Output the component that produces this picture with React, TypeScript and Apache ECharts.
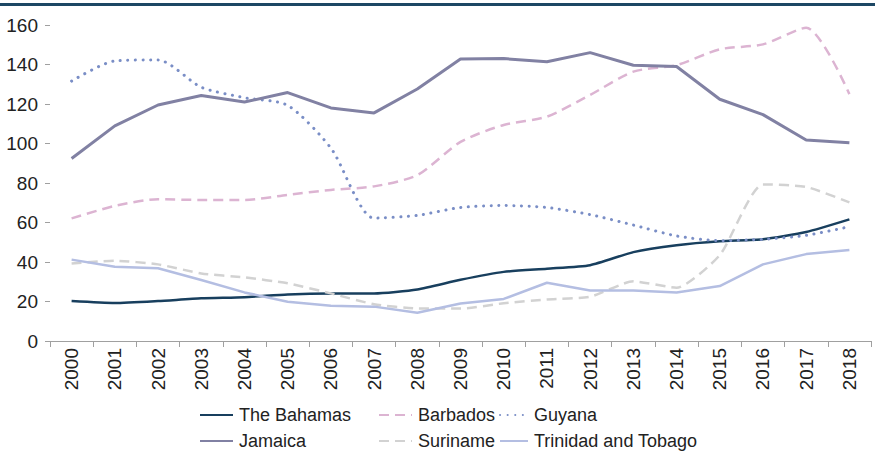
import React, { useEffect, useRef } from "react";
import * as echarts from "echarts";

const years = ["2000","2001","2002","2003","2004","2005","2006","2007","2008","2009","2010","2011","2012","2013","2014","2015","2016","2017","2018"];
const bahamas = [20.2, 19.2, 20.2, 21.6, 22.2, 23.6, 24.1, 24.1, 26.1, 31.0, 35.0, 36.6, 38.4, 45.0, 48.5, 50.5, 51.5, 55.2, 61.6];
const barbados = [62.1, 68.4, 71.8, 71.4, 71.4, 74.0, 76.5, 78.3, 84.0, 100.8, 109.4, 113.6, 124.6, 136.4, 139.7, 147.7, 150.2, 158.6, 125.0];
const guyana = [131.6, 141.8, 142.3, 128.5, 123.2, 119.3, 97.7, 62.2, 63.6, 67.6, 68.6, 67.6, 64.0, 58.7, 53.2, 50.8, 51.5, 53.5, 57.9];
const jamaica = [92.4, 108.9, 119.5, 124.3, 121.0, 125.8, 118.0, 115.5, 127.6, 142.8, 143.0, 141.4, 146.0, 139.6, 139.0, 122.4, 114.6, 101.8, 100.4];
const suriname = [39.3, 40.6, 38.8, 34.2, 32.2, 29.2, 24.1, 18.6, 16.5, 16.4, 19.1, 21.0, 22.4, 30.2, 27.0, 43.5, 79.3, 78.0, 70.2];
const trinidad = [41.2, 37.6, 36.8, 30.9, 24.6, 19.9, 17.9, 17.4, 14.3, 19.0, 21.3, 29.5, 25.6, 25.6, 24.6, 27.8, 38.8, 44.0, 46.1];
const yTicks = [0, 20, 40, 60, 80, 100, 120, 140, 160];

const FONT = '"Liberation Sans", Arial, sans-serif';

export default function App() {
  const ref = useRef<HTMLDivElement>(null);
  useEffect(() => {
    document.body.style.margin = "0";
    if (!ref.current) return;
    const chart = echarts.init(ref.current, null, { renderer: "svg" });
    const mk = (name: string, data: number[], color: string, width: number, type: any, smooth: number | boolean, cap: any = "butt") => ({
      name,
      type: "line",
      data,
      symbol: "none",
      smooth,
      lineStyle: { color, width, type, cap },
      itemStyle: { color },
    });
    const lg = (name: string, left: number, top: number, w: number = 33) => ({
      orient: "horizontal",
      left,
      top,
      itemWidth: w,
      itemHeight: 14,
      itemGap: 0,
      padding: 0,
      itemStyle: { opacity: 0 },
      textStyle: { fontFamily: FONT, fontSize: 18, color: "#222", padding: [0, 0, 0, 1] },
      data: [name],
    });
    chart.setOption({
      animation: false,
      textStyle: { fontFamily: FONT },
      graphic: [
        { type: "rect", shape: { x: 0, y: 3, width: 875, height: 3 }, style: { fill: "#1d4764" } },
      ],
      grid: { left: 50, right: 4, top: 25, bottom: 116, containLabel: false },
      legend: [
        lg("The Bahamas", 199, 406),
        lg("Jamaica", 199, 432),
        lg("Barbados", 378, 406),
        lg("Suriname", 378, 432),
        lg("Guyana", 499, 406, 28),
        lg("Trinidad and Tobago", 499, 432, 28),
      ],
      xAxis: {
        type: "category",
        data: years,
        boundaryGap: true,
        axisLine: { show: true, lineStyle: { color: "#a0a0a0", width: 1 } },
        axisTick: { show: true, interval: 0, length: 6, lineStyle: { color: "#a0a0a0" } },
        axisLabel: { rotate: 90, interval: 0, margin: 7, fontSize: 19, color: "#222", fontFamily: FONT },
      },
      yAxis: {
        type: "value",
        min: yTicks[0],
        max: yTicks[yTicks.length - 1],
        interval: 20,
        axisLine: { show: false },
        axisTick: { show: true, length: 5, lineStyle: { color: "#a0a0a0" } },
        splitLine: { show: false },
        axisLabel: { margin: 12, fontSize: 19, color: "#222", fontFamily: FONT },
      },
      series: [
        mk("The Bahamas", bahamas, "#183f5e", 2.5, "solid", 0.2),
        mk("Barbados", barbados, "#dcb4d2", 2.5, [10, 6], 0.25),
        mk("Guyana", guyana, "#7a8ec6", 3, [0.1, 7.5], 0.25, "round"),
        mk("Jamaica", jamaica, "#8181a3", 3, "solid", false),
        mk("Suriname", suriname, "#d2d2d2", 2.5, [10, 6], 0.2),
        mk("Trinidad and Tobago", trinidad, "#b4bee2", 2.5, "solid", false),
      ],
    });
    return () => chart.dispose();
  }, []);
  return <div ref={ref} style={{ width: 875, height: 457 }} />;
}
